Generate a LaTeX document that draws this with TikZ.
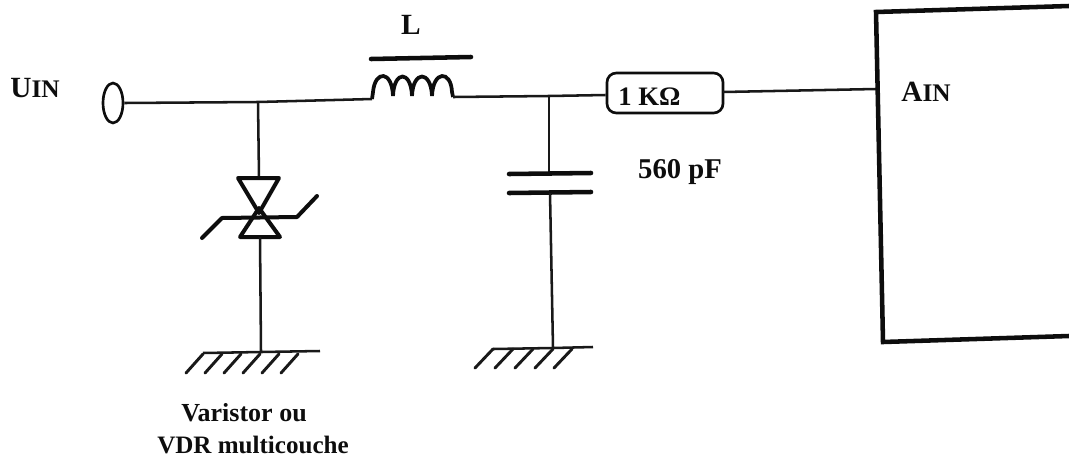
\documentclass[tikz,border=0pt]{standalone}
\usepackage{fontspec}
\usetikzlibrary{shapes.geometric}
\setmainfont{Liberation Serif}
\tikzset{
  wire/.style={line width=1.9pt,black!90},
  heavy/.style={line width=3.4pt,black!95,line cap=round},
  tri/.style={line width=3pt,black!95,line cap=round,line join=round},
  lbl/.style={font=\bfseries\fontsize{19.5}{24}\selectfont,inner sep=0pt,text=black!95,align=center},
  biglbl/.style={font=\bfseries\fontsize{22}{24}\selectfont,inner sep=0pt,text=black!95},
}
\newcommand{\smalltxt}[1]{{\fontsize{19}{24}\selectfont #1}}
\begin{document}
\begin{tikzpicture}[x=0.75pt,y=-0.75pt]
\useasboundingbox (0,0) rectangle (1069,461);
% input terminal
\node[ellipse,draw,line width=2pt,minimum width=15pt,minimum height=30pt,inner sep=0pt,black!95] (term) at (113,103) {};
\coordinate (j1) at (258,102);
\coordinate (lL) at (372,99);
\coordinate (lR) at (453,97);
\coordinate (j2) at (549,96);
\node[biglbl] (uin) at (35,88) {U\smalltxt{IN}};
\draw[wire] (term.east) -- (j1) -- (lL);
% inductor
\draw[line width=2.8pt,black!95] (lL) -- (373,92) .. controls (375,70) and (392,70) .. (393,96)
  (393,96) .. controls (394,70) and (411,70) .. (412,96)
  (412,96) .. controls (413,70) and (431,70) .. (432,96)
  (432,96) .. controls (433,70) and (451,70) .. (452,92) -- (lR);
\coordinate (barL) at (371,59);
\coordinate (barR) at (471,57);
\draw[heavy] (barL) -- (barR);
\node[biglbl] (L) at (411,25) {L};
% wires to resistor and box
\node[draw,rounded corners=7pt,line width=2pt,black!95,minimum width=87pt,minimum height=30pt,inner sep=0pt] (R) at (665,93) {};
\node[lbl,anchor=west,font=\bfseries\fontsize{20}{24}\selectfont] (Rtxt) at (618,97) {1 KΩ};
\draw[wire] (lR) -- (j2) -- (R.west |- 0,95);
\coordinate (boxIn) at (876,89);
\draw[wire] (723,92) -- (boxIn);
% varistor
\coordinate (vTop) at (259,178);
\coordinate (vBot) at (260,237);
\draw[wire] (j1) -- (vTop);
\draw[tri] (238,178) -- (279,178) -- (259,213) -- cycle;
\draw[tri] (240,237) -- (280,237) -- (259,208) -- cycle;
\draw[tri] (202,238) -- (222,218) -- (297,217) -- (317,196);
\coordinate (g1) at (261,352);
\draw[wire] (vBot) -- (g1);
\draw[wire] (203,353) -- (g1) -- (320,351);
\foreach \x in {203,222,241,260,279,298}
  \draw[wire,line width=2.2pt,line cap=round] (\x,354) -- (\x-17,373);
% capacitor
\coordinate (c1) at (549,174);
\coordinate (c2) at (550,193);
\draw[wire] (j2) -- (c1);
\draw[heavy] (509,174) -- (591,173);
\draw[heavy] (509,193) -- (591,192);
\coordinate (g2) at (553,348);
\draw[wire] (c2) -- (g2);
\draw[wire] (493,349) -- (g2) -- (593,347);
\foreach \x in {493,513,533,553,572}
  \draw[wire,line width=2.2pt,line cap=round] (\x,349) -- (\x-18,368);
% box
\draw[line width=3.4pt,black!95] (1069,6) -- (876,12) -- (883,342) -- (1069,336);
% labels
\node[biglbl] (ain) at (926,92) {A\smalltxt{IN}};
\node[biglbl,font=\bfseries\fontsize{21.5}{24}\selectfont] (cap) at (680,172) {560 pF};
\node[lbl] (var1) at (244,413) {Varistor ou};
\node[lbl,font=\bfseries\fontsize{18.8}{24}\selectfont] (var2) at (253,445) {VDR multicouche};
\end{tikzpicture}
\end{document}
